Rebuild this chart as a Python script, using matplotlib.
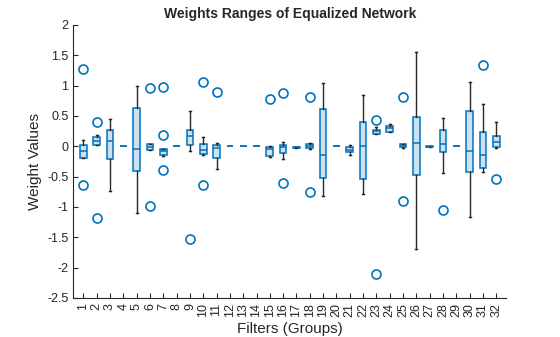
import numpy as np
import matplotlib
matplotlib.use("Agg")
from matplotlib import pyplot as plt

plt.rcParams['font.family'] = ['Liberation Sans', 'DejaVu Sans']

groups = list(range(1, 33))

# box statistics (per filter group)
q1 = [-0.19, 0.016, -0.21, 0, -0.41, -0.055, -0.14, 0, 0.016, -0.12, -0.20, 0, 0, 0, -0.165, -0.11,
      -0.025, -0.033, -0.53, 0, -0.10, -0.54, 0.21, 0.24, -0.016, -0.48, -0.01, -0.09, 0, -0.42, -0.36, -0.016]
med = [-0.08, 0.08, 0.09, 0, -0.04, -0.005, -0.08, 0, 0.165, -0.06, -0.03, 0, 0, 0, -0.045, -0.016,
       -0.016, 0, -0.15, 0, -0.055, 0.005, 0.25, 0.30, 0.01, 0.055, -0.005, 0.044, 0, -0.077, -0.14, 0.07]
q3 = [0.016, 0.15, 0.26, 0, 0.63, 0.04, -0.045, 0, 0.26, 0.04, 0.02, 0, 0, 0, -0.005, 0.027,
      -0.01, 0.033, 0.61, 0, -0.016, 0.40, 0.27, 0.34, 0.03, 0.48, 0.0, 0.26, 0, 0.58, 0.23, 0.165]
whislo = [-0.20, 0.016, -0.73, 0, -1.10, -0.06, -0.165, 0, -0.08, -0.15, -0.38, 0, 0, 0, -0.18, -0.21,
          -0.03, -0.04, -0.82, 0, -0.15, -0.78, 0.21, 0.23, -0.03, -1.69, -0.015, -0.44, 0, -1.17, -0.42, -0.03]
whishi = [0.11, 0.19, 0.45, 0, 1.0, 0.045, -0.04, 0, 0.58, 0.16, 0.055, 0, 0, 0, 0.0, 0.077,
          -0.005, 0.055, 1.04, 0, 0.02, 0.84, 0.32, 0.36, 0.035, 1.56, 0.005, 0.46, 0, 1.06, 0.69, 0.40]
outliers = {1: [1.27, -0.64], 2: [0.40, -1.18], 6: [0.96, -0.98], 7: [0.98, 0.18, -0.39],
            9: [-1.53], 10: [1.06, -0.64], 11: [0.89], 15: [0.78], 16: [0.88, -0.60],
            18: [0.82, -0.75], 23: [0.43, -2.11], 25: [0.82, -0.90], 28: [-1.05],
            31: [1.34], 32: [-0.54]}

blue = '#0072BD'
dark = '#262626'

stats = []
for i, g in enumerate(groups):
    stats.append(dict(med=med[i], q1=q1[i], q3=q3[i], whislo=whislo[i], whishi=whishi[i],
                      fliers=outliers.get(g, [])))

fig = plt.figure(figsize=(5.6, 3.37), dpi=100)
ax = fig.add_axes([0.131, 0.116, 0.773, 0.81])

res = ax.bxp(stats, positions=groups, widths=0.5, patch_artist=True, capwidths=0.15,
             boxprops=dict(facecolor=(0, 0.447, 0.741, 0.2), edgecolor=blue, linewidth=1.1),
             medianprops=dict(color=blue, linewidth=1.1),
             whiskerprops=dict(color=dark, linewidth=1.0),
             capprops=dict(color=dark, linewidth=1.0),
             flierprops=dict(marker='o', markerfacecolor='none', markeredgecolor=blue,
                             markersize=6.5, markeredgewidth=1.2))

# flat groups: no caps
for i in range(len(groups)):
    if q1[i] == q3[i] == whislo[i] == whishi[i]:
        res['caps'][2 * i].set_visible(False)
        res['caps'][2 * i + 1].set_visible(False)

ax.set_xlim(0.25, 32.75)
ax.set_ylim(-2.5, 2)
ax.set_yticks(np.arange(-2.5, 2.01, 0.5))
ax.set_yticklabels(['-2.5', '-2', '-1.5', '-1', '-0.5', '0', '0.5', '1', '1.5', '2'])
ax.set_xticks(groups)
ax.set_xticklabels([str(g) for g in groups], rotation=90)

for s in ['top', 'right']:
    ax.spines[s].set_visible(False)
for s in ['left', 'bottom']:
    ax.spines[s].set_color(dark)
    ax.spines[s].set_linewidth(0.8)
ax.tick_params(direction='in', length=3.5, width=0.8, colors=dark, labelsize=9)

ax.set_title('Weights Ranges of Equalized Network', fontsize=10, fontweight='bold', color=dark, pad=5)
ax.set_ylabel('Weight Values', fontsize=11, color=dark, labelpad=4)
ax.set_xlabel('Filters (Groups)', fontsize=11, color=dark, labelpad=4)

fig.savefig('out.png', dpi=100)
